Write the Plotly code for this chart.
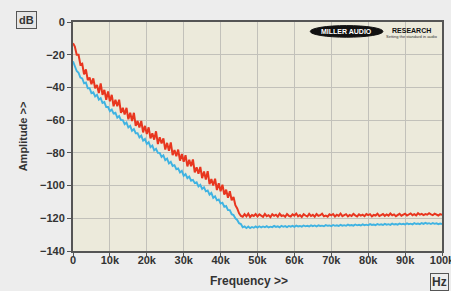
import numpy as np
import plotly.graph_objects as go

# Frequency grid (Hz), 0.5 kHz spacing
freq = np.arange(0, 100001, 500)

red_db = [
    -13, -15, -20, -20, -26, -25.5, -32, -29, -35.5, -34,
    -38, -34.5, -40.5, -38.5, -43.5, -37.5, -44.5, -41.5, -47.5, -42.5,
    -48.5, -44.5, -51.5, -47.5, -51.5, -47.5, -55.5, -52.5, -56.5, -52.5,
    -59.5, -55.5, -60.5, -55.5, -63.5, -60.5, -64.5, -60.5, -67.5, -63.5,
    -68.5, -64.4, -71.2, -68.1, -71.9, -66.8, -74.6, -70.5, -74.3, -71.2,
    -78, -73.9, -78.7, -73.6, -81.4, -78.3, -82.1, -78, -84.8, -80.7,
    -85.5, -81.4, -88.3, -84.2, -88.1, -84, -91.9, -88.8, -92.7, -88.6,
    -95.5, -91.4, -96.3, -91.2, -99.1, -96, -99.9, -95.8, -102.7, -98.6,
    -103.5, -99.5, -105.5, -102.5, -107.5, -103.5, -109, -107, -112, -114,
    -117, -118.5, -119, -117.5, -118.8, -117.2, -119.2, -118, -118.6, -117.4,
    -118.9, -117.6, -118.4, -119.1, -117.3, -118.7, -118.1, -119.3, -117.5, -118.5,
    -117.8, -119, -117.2, -118.6, -118.2, -119.1, -117.4, -118.5, -118.9, -117.6,
    -118.4, -117.1, -118.8, -118, -119.2, -117.5, -118.3, -118.9, -117.3, -118.6,
    -117.9, -119, -117.4, -118.5, -118.1, -117.2, -118.8, -118.3, -119, -117.6,
    -118.2, -117.4, -118.9, -117.8, -118.5, -117.1, -118.7, -118.1, -117.5, -118.8,
    -117.9, -118.6, -117.3, -118.2, -118.9, -117.6, -118.4, -117.8, -118.7, -117.4,
    -118.1, -117.5, -118.8, -117.9, -118.3, -117.2, -118.6, -118, -117.4, -118.5,
    -117.7, -118.4, -117.1, -118.2, -117.6, -118.7, -117.8, -117.3, -118.4, -117.9,
    -117.2, -118.3, -117.6, -117, -118.1, -117.5, -118.2, -116.9, -117.8, -117.3,
    -118, -117.4, -117.8, -116.9, -117.6, -118.1, -117.2, -117.7, -118.3, -117.5,
    -117.8,
]

blue_db = [
    -24, -26.5, -30, -31, -34, -34.5, -37.5, -37, -40.5, -40.5,
    -43.5, -43, -45.5, -44.5, -47.5, -46.5, -49.5, -49, -52, -52,
    -54.5, -53.5, -56, -55.5, -58.5, -57.5, -60, -60, -62.5, -61.5,
    -64.5, -63.5, -66.5, -65.5, -68, -68, -70.5, -69.5, -72.5, -71.5,
    -74.5, -73.5, -76.5, -75.5, -78.5, -77.5, -80, -80, -82.5, -81.5,
    -84.5, -83.5, -86.5, -85.5, -88, -87.5, -90, -89.5, -92, -91,
    -94, -93, -95.5, -94.5, -97, -96.5, -98.5, -98, -100.5, -99.5,
    -102, -101, -103.5, -103, -105.5, -104.5, -107.5, -106.5, -109, -108.5,
    -111, -110.5, -113, -112.5, -115, -115, -117.5, -118, -120, -121,
    -123, -123.5, -125.5, -125, -126, -125, -126, -125.3, -125.8, -125,
    -125.7, -124.9, -125.6, -125, -125.5, -124.8, -125.6, -125.1, -125.4, -124.7,
    -125.3, -124.9, -125.5, -124.6, -125.2, -124.8, -125.4, -124.7, -125.1, -124.6,
    -125.2, -124.5, -125, -124.7, -125.1, -124.4, -124.9, -124.6, -125, -124.3,
    -124.8, -124.4, -125, -124.3, -124.7, -124.5, -124.9, -124.2, -124.6, -124.4,
    -124.8, -124.1, -124.6, -124.3, -124.7, -124, -124.5, -124.2, -124.6, -123.9,
    -124.4, -124.1, -124.5, -123.8, -124.3, -124, -124.4, -123.7, -124.2, -123.9,
    -124.3, -123.6, -124.1, -123.8, -124.2, -123.5, -124, -123.7, -124.1, -123.4,
    -123.9, -123.6, -124, -123.3, -123.8, -123.5, -123.9, -123.2, -123.7, -123.4,
    -123.8, -123.1, -123.6, -123.3, -123.7, -123, -123.5, -123.2, -123.6, -122.9,
    -123.4, -122.8, -123.3, -123, -123.5, -122.9, -123.4, -123.1, -123.6, -123.2,
    -123.5,
]

x_tickvals = [0, 10000, 20000, 30000, 40000, 50000, 60000, 70000, 80000, 90000, 100000]
x_ticktext = ["0", "10k", "20k", "30k", "40k", "50k", "60k", "70k", "80k", "90k", "100k"]
y_tickvals = [0, -20, -40, -60, -80, -100, -120, -140]

tick_font = dict(family="Liberation Sans", size=11, color="#333333", weight="bold")

fig = go.Figure()
fig.add_trace(go.Scatter(x=freq, y=blue_db, mode="lines",
                         line=dict(color="#3FB3E2", width=1.9), showlegend=False))
fig.add_trace(go.Scatter(x=freq, y=red_db, mode="lines",
                         line=dict(color="#E8361F", width=2), showlegend=False))

fig.update_layout(
    width=451, height=291,
    margin=dict(l=73, r=9, t=22, b=40),
    paper_bgcolor="#EDEDED",
    plot_bgcolor="#ECEADB",
    xaxis=dict(range=[0, 100000], tickvals=x_tickvals, ticktext=x_ticktext,
               automargin=False,
               showgrid=True, gridcolor="#C2C1BA", gridwidth=1,
               ticks="outside", ticklen=3, tickcolor="#555555",
               ticklabelstandoff=-5, ticklabeloverflow="allow",
               showline=True, linecolor="#555555", linewidth=2, mirror=True,
               tickfont=tick_font, zeroline=False),
    yaxis=dict(range=[-140, 0], tickvals=y_tickvals,
               automargin=False,
               showgrid=True, gridcolor="#C2C1BA", gridwidth=1,
               ticks="outside", ticklen=4, tickcolor="#555555",
               showline=True, linecolor="#555555", linewidth=2, mirror=True,
               tickfont=tick_font, zeroline=False,
               title=dict(text="Amplitude >>", standoff=10,
                          font=dict(family="Liberation Sans", size=11, color="#333333", weight="bold"))),
)

# x-axis title
fig.add_annotation(text="Frequency >>", xref="paper", yref="paper",
                   x=(249 - 72.5) / 369.5, y=(251 - 281) / 229, showarrow=False,
                   xanchor="center", yanchor="middle",
                   font=dict(family="Liberation Sans", size=12, color="#333333", weight="bold"))
# dB box
fig.add_annotation(text="dB", xref="paper", yref="paper",
                   x=(26 - 72.5) / 369.5, y=(251 - 20) / 229, showarrow=False,
                   xanchor="center", yanchor="middle",
                   font=dict(family="Liberation Sans", size=11, color="#333333", weight="bold"),
                   bordercolor="#555555", borderwidth=1, borderpad=2, bgcolor="#E6E6E6")
# Hz box
fig.add_annotation(text="Hz", xref="paper", yref="paper",
                   x=(439 - 72.5) / 369.5, y=(251 - 282) / 229, showarrow=False,
                   xanchor="center", yanchor="middle",
                   font=dict(family="Liberation Sans", size=12, color="#333333", weight="bold"),
                   bordercolor="#555555", borderwidth=1, borderpad=1, bgcolor="#EDEDED")

# Logo
fig.add_shape(type="circle", xref="x", yref="y", x0=64300, x1=84000, y0=-9.3, y1=-2.2,
              fillcolor="#111111", line=dict(color="#111111", width=1))
fig.add_annotation(text="MILLER AUDIO", xref="x", yref="y", x=74150, y=-5.8, showarrow=False,
                   font=dict(family="Liberation Sans", size=7, color="#FFFFFF", weight="bold"))
fig.add_annotation(text="RESEARCH", xref="x", yref="y", x=91800, y=-4.9, showarrow=False,
                   font=dict(family="Liberation Sans", size=7, color="#111111", weight="bold"))
fig.add_annotation(text="Setting the standard in audio", xref="x", yref="y",
                   x=91800, y=-8.6, showarrow=False,
                   font=dict(family="Liberation Sans", size=4, color="#333333"))

fig.write_html("out.html", config={"displayModeBar": False},
               post_script="document.body.style.margin='0';document.body.style.background='#EDEDED';")
